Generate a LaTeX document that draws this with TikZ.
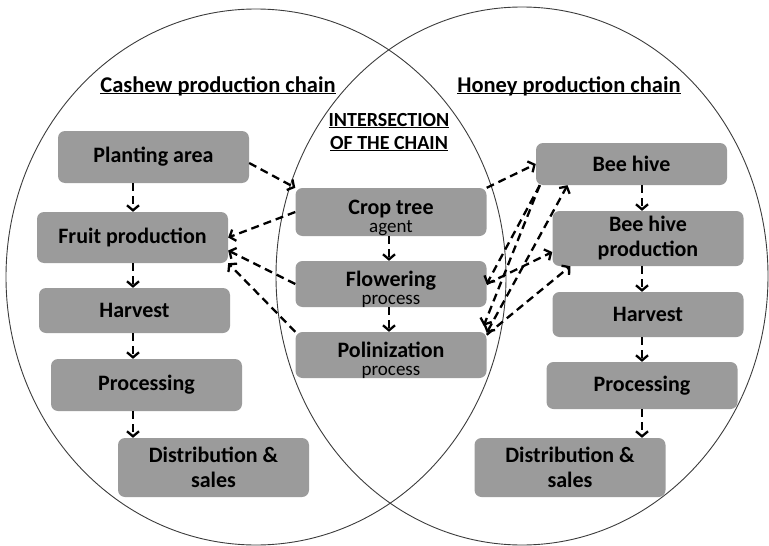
\documentclass[tikz,border=0pt]{standalone}
\usepackage{fontspec}
\setmainfont{Carlito}
\usetikzlibrary{arrows.meta,positioning}
\definecolor{boxgray}{RGB}{155,155,155}
\definecolor{ringgray}{RGB}{60,60,60}
\newcommand{\subtxt}[1]{{\mdseries\fontsize{19}{18}\selectfont\raisebox{0pt}[\height][0pt]{#1}}}
\newcommand{\topstrut}{\rule{0pt}{22pt}}

\begin{document}
\begin{tikzpicture}[x=1pt,y=-1pt,>={Straight Barb[length=5pt,width=12pt]},
    stage/.style={fill=boxgray,rounded corners=7pt,minimum width=191pt,
      minimum height=#1,inner sep=1pt,align=center,
      font=\bfseries\fontsize{22}{25}\selectfont},
    stage/.default=48pt,
    duo/.style={font=\bfseries\fontsize{22}{18}\selectfont},
    link/.style={->,dash pattern=on 8pt off 5pt,line width=2.3pt},
    heading/.style={anchor=base,font=\bfseries\fontsize{22.5}{24}\selectfont},
    subheading/.style={anchor=base,font=\bfseries\fontsize{20}{24}\selectfont},
    ring/.style={draw=ringgray,line width=0.9pt}]
    \useasboundingbox (0,0) rectangle (769,546);

    % the two chains
    \draw[ring] (256,277) ellipse [x radius=250pt,y radius=268pt];
    \draw[ring] (522,276) ellipse [x radius=246pt,y radius=269pt];

    \node[heading] (cashew) at (218,92) {\underline{\smash{Cashew production chain}}};
    \node[heading] (honey) at (569,92) {\underline{\smash{Honey production chain}}};
    \node[subheading] (inter1) at (389,126) {\underline{\smash{INTERSECTION}}};
    \node[subheading] (inter2) at (389,149) {\underline{\smash{OF THE CHAIN}}};

    % cashew side
    \node[stage=52pt] (planting) at (153.5,157) {Planting area};
    \node[stage=51pt] (fruit) at (132.5,237.5) {Fruit production};
    \node[stage=45pt] (harvestL) at (134.5,310.5) {Harvest};
    \node[stage=52pt] (processL) at (146.5,385) {Processing};
    \node[stage=59pt] (distL) at (213.5,467.5) {Distribution \&\\sales};

    % intersection
    \node[stage=48pt,duo] (crop) at (391,212) {\topstrut Crop tree\\\subtxt{agent}};
    \node[stage=46pt,duo] (flower) at (391,284) {\topstrut Flowering\\\subtxt{process}};
    \node[stage=46pt,duo] (polin) at (391,355) {\topstrut Polinization\\\subtxt{process}};

    % honey side
    \node[stage=42pt] (beehive) at (631.5,164) {Bee hive};
    \node[stage=55pt] (hiveprod) at (648,238.5) {Bee hive\\production};
    \node[stage=45pt] (harvestR) at (648,314.5) {Harvest};
    \node[stage=47pt] (processR) at (642,385.5) {Processing};
    \node[stage=59pt] (distR) at (570,467.5) {Distribution \&\\sales};

    \coordinate (leftaxis) at (133,0);
    \coordinate (rightaxis) at (642,0);

    \path[link]
    (planting.south -| leftaxis) edge (fruit.north -| leftaxis)
    (fruit.south -| leftaxis) edge (harvestL.north -| leftaxis)
    (harvestL.south -| leftaxis) edge (processL.north -| leftaxis)
    (processL.south -| leftaxis) edge (distL.north -| leftaxis)
    ([xshift=-2pt]crop.south) edge ([xshift=-2pt]flower.north)
    ([xshift=-2pt]flower.south) edge ([xshift=-2pt]polin.north)
    (beehive.south -| rightaxis) edge (hiveprod.north -| rightaxis)
    (hiveprod.south -| rightaxis) edge (harvestR.north -| rightaxis)
    (harvestR.south -| rightaxis) edge (processR.north -| rightaxis)
    (processR.south -| rightaxis) edge (distR.north -| rightaxis);

    \path[link]
    ([yshift=-6pt]planting.east) edge (crop.north west)
    (crop.west) edge (fruit.east)
    (flower.west) edge ([yshift=-13pt]fruit.east)
    (polin.north west) edge (fruit.south east)
    (crop.north east) edge (beehive.west)
    ([xshift=4pt]beehive.south west) edge (flower.east)
    ([xshift=4pt]beehive.south west) edge ([xshift=-3pt,yshift=6pt]polin.north east)
    ([yshift=-1pt]polin.north east) edge[<->] ([xshift=-64pt]beehive.south)
    (flower.east) edge ([yshift=-13.5pt]hiveprod.west)
    ([yshift=-3pt]polin.north east) edge ([xshift=18pt]hiveprod.south west);
\end{tikzpicture}
\end{document}
